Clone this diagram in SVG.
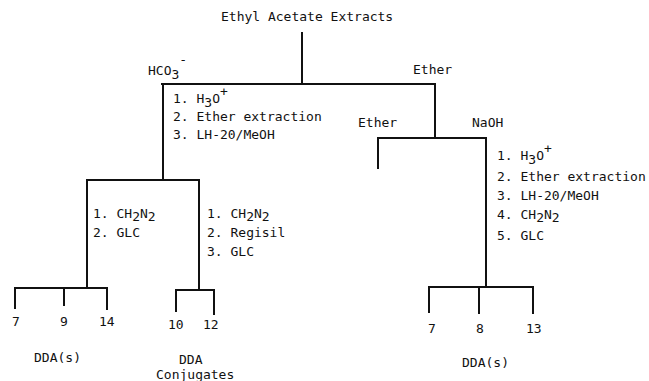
<svg xmlns="http://www.w3.org/2000/svg" width="649" height="381" viewBox="0 0 649 381">
<style>
text{font-family:"DejaVu Sans Mono","Liberation Mono",monospace;font-size:13px;fill:#111}
.ln{stroke:#111;stroke-width:2;fill:none;stroke-linecap:square}
</style>
<rect width="649" height="381" fill="#fff"/>
<g id="connectors">
<path class="ln" d="M302,33V84M162,84H435M163,84V180M87,180H199M87,180V288M199,180V290"/>
<path class="ln" d="M15,288H107M15,288V308M64,288V305M107,288V309"/>
<path class="ln" d="M176,290H214M176,290V311M214,290V314"/>
<path class="ln" d="M435,84V138M378,138H486M378,138V168M486,138V287"/>
<path class="ln" d="M429,287H533M429,287V312M479,287V313M533,287V313"/>
</g>
<g id="root"><text x="221" y="21">Ethyl Acetate Extracts</text></g>
<g id="hco3"><text x="148" y="75">HCO<tspan dy="4">3</tspan><tspan dy="-15">-</tspan></text></g>
<g id="ether1"><text x="413" y="74">Ether</text></g>
<g id="left-steps">
<text x="173" y="103">1. H<tspan dy="4">3</tspan><tspan dy="-4">O</tspan><tspan dy="-7">+</tspan></text>
<text x="173" y="121">2. Ether extraction</text>
<text x="173" y="139">3. LH-20/MeOH</text>
</g>
<g id="ether2"><text x="358" y="127">Ether</text></g>
<g id="naoh"><text x="472" y="127">NaOH</text></g>
<g id="right-steps">
<text x="497" y="160">1. H<tspan dy="4">3</tspan><tspan dy="-4">O</tspan><tspan dy="-7">+</tspan></text>
<text x="497" y="181">2. Ether extraction</text>
<text x="497" y="200">3. LH-20/MeOH</text>
<text x="497" y="219">4. CH<tspan dy="3">2</tspan><tspan dy="-3">N</tspan><tspan dy="3">2</tspan></text>
<text x="497" y="240">5. GLC</text>
</g>
<g id="acid-steps">
<text x="93" y="218">1. CH<tspan dy="3">2</tspan><tspan dy="-3">N</tspan><tspan dy="3">2</tspan></text>
<text x="93" y="237">2. GLC</text>
</g>
<g id="conj-steps">
<text x="207" y="218">1. CH<tspan dy="3">2</tspan><tspan dy="-3">N</tspan><tspan dy="3">2</tspan></text>
<text x="207" y="237">2. Regisil</text>
<text x="207" y="256">3. GLC</text>
</g>
<g id="dda-left">
<text x="12" y="326">7</text><text x="60" y="326">9</text><text x="99" y="326">14</text>
<text x="34" y="362">DDA(s)</text>
</g>
<g id="dda-conj">
<text x="168" y="329">10</text><text x="203" y="329">12</text>
<text x="179" y="364">DDA</text><text x="156" y="379">Conjugates</text>
</g>
<g id="dda-right">
<text x="428" y="333">7</text><text x="476" y="333">8</text><text x="526" y="333">13</text>
<text x="462" y="367">DDA(s)</text>
</g>
</svg>
